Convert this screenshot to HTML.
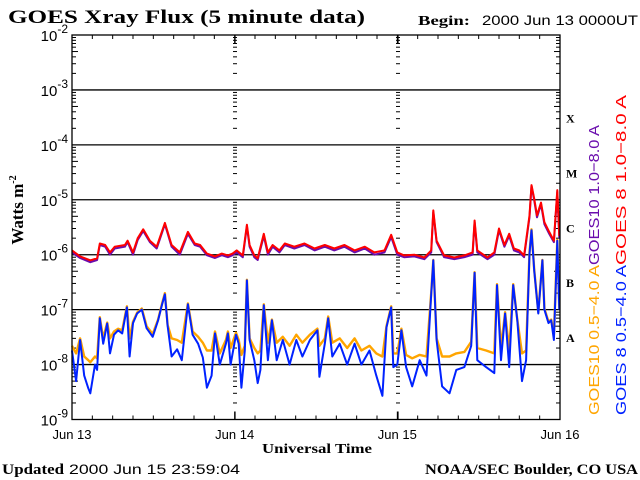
<!DOCTYPE html>
<html><head><meta charset="utf-8"><style>
html,body{margin:0;padding:0;background:#fff;width:640px;height:480px;overflow:hidden}
svg{display:block}
.serif{font-family:"Liberation Serif",serif;font-weight:bold}
.sans{font-family:"Liberation Sans",sans-serif}
</style></head><body>
<svg id="chart" width="640" height="480" xmlns="http://www.w3.org/2000/svg">
<text x="8" y="23" class="serif" font-size="19" textLength="357" lengthAdjust="spacingAndGlyphs">GOES Xray Flux (5 minute data)</text>
<text x="418" y="25" class="serif" font-size="14" textLength="52" lengthAdjust="spacingAndGlyphs">Begin:</text>
<text x="482" y="25" class="sans" font-size="14" textLength="156" lengthAdjust="spacingAndGlyphs">2000 Jun 13 0000UT</text>
<text x="2" y="474" class="serif" font-size="15" textLength="62" lengthAdjust="spacingAndGlyphs">Updated</text>
<text x="69" y="474" class="sans" font-size="14" textLength="171" lengthAdjust="spacingAndGlyphs">2000 Jun 15 23:59:04</text>
<text x="425" y="474" class="serif" font-size="15" textLength="213" lengthAdjust="spacingAndGlyphs">NOAA/SEC Boulder, CO USA</text>
<text x="262" y="453" class="serif" font-size="14" textLength="110" lengthAdjust="spacingAndGlyphs">Universal Time</text>
<text transform="translate(23,210) rotate(-90)" text-anchor="middle" class="serif" font-size="17">Watts m<tspan dy="-7" font-size="10">-2</tspan></text>
<g id="plot"></g>
<text transform="translate(599,265) rotate(-90)" class="sans" font-size="15" fill="#6a0dad" textLength="140" lengthAdjust="spacingAndGlyphs">GOES10 1.0−8.0 A</text>
<text transform="translate(626,265) rotate(-90)" class="sans" font-size="15" fill="#ff0000" textLength="170" lengthAdjust="spacingAndGlyphs">GOES 8 1.0−8.0 A</text>
<text transform="translate(599,415) rotate(-90)" class="sans" font-size="15" fill="#ffa500" textLength="150" lengthAdjust="spacingAndGlyphs">GOES10 0.5−4.0 A</text>
<text transform="translate(626,415) rotate(-90)" class="sans" font-size="15" fill="#0022ff" textLength="150" lengthAdjust="spacingAndGlyphs">GOES 8 0.5−4.0 A</text>
</svg>
<script>
const dayLabels=["Jun 13","Jun 14","Jun 15","Jun 16"];
const decadeExps=[-2,-3,-4,-5,-6,-7,-8,-9];
const classLabels=["X","M","C","B","A"];
const classExps=[-3.5,-4.5,-5.5,-6.5,-7.5];
const redT=[0,1.2,2.7,3.7,4.1,4.9,5.6,6.3,7.8,8.2,9.0,9.7,10.5,11.5,12.5,13.7,14.7,15.9,17.1,18.1,18.9,19.9,21.1,22.1,23.0,23.7,24.3,25.2,25.8,26.2,26.9,27.4,28.3,28.9,29.6,30.6,31.4,32.8,34.3,35.8,37.3,38.7,40.2,41.7,43.2,44.6,46.1,47.1,48.0,49.0,50.5,52.0,53.0,53.3,53.8,54.9,56.4,57.9,59.1,59.4,59.8,61.3,62.3,63.0,63.8,64.5,65.2,66.0,66.7,67.5,67.8,68.2,68.6,69.2,69.7,70.4,71.1,71.6,71.9];
const redV=[1.2e-6,9.3e-7,7.9e-7,8.6e-7,1.6e-6,1.5e-6,1.1e-6,1.4e-6,1.5e-6,1.8e-6,1.1e-6,2.0e-6,2.9e-6,1.8e-6,1.4e-6,3.8e-6,1.5e-6,1.1e-6,2.6e-6,1.6e-6,1.5e-6,1.05e-6,9.3e-7,1.05e-6,9.7e-7,1.05e-6,1.2e-6,9.7e-7,3.5e-6,1.5e-6,9.7e-7,8.6e-7,2.4e-6,1.1e-6,1.5e-6,1.2e-6,1.6e-6,1.4e-6,1.6e-6,1.3e-6,1.5e-6,1.3e-6,1.5e-6,1.2e-6,1.4e-6,1.1e-6,1.2e-6,2.3e-6,1.1e-6,9.7e-7,1.0e-6,8.9e-7,1.2e-6,6.4e-6,1.8e-6,9.7e-7,8.9e-7,9.7e-7,1.1e-6,4.2e-6,1.2e-6,8.9e-7,1.1e-6,3.0e-6,1.5e-6,2.4e-6,1.3e-6,1.2e-6,9.7e-7,5.2e-6,1.85e-5,1.05e-5,5.2e-6,8.9e-6,3.9e-6,2.6e-6,1.8e-6,1.5e-5,2.2e-6];
const purpleT=redT;
const purpleV=[1.1e-6,8.7e-7,7.3e-7,8e-7,1.5e-6,1.4e-6,1.0e-6,1.3e-6,1.4e-6,1.7e-6,1.0e-6,1.85e-6,2.7e-6,1.7e-6,1.3e-6,3.6e-6,1.4e-6,1.0e-6,2.4e-6,1.5e-6,1.4e-6,9.8e-7,8.7e-7,9.8e-7,9e-7,9.8e-7,1.1e-6,9e-7,3.3e-6,1.4e-6,9e-7,8e-7,2.2e-6,1.0e-6,1.4e-6,1.1e-6,1.5e-6,1.3e-6,1.5e-6,1.2e-6,1.4e-6,1.2e-6,1.4e-6,1.1e-6,1.3e-6,1.0e-6,1.1e-6,2.1e-6,1.0e-6,9e-7,9.3e-7,8.3e-7,1.1e-6,6e-6,1.7e-6,9e-7,8.3e-7,9e-7,1.0e-6,3.9e-6,1.1e-6,8.3e-7,1.0e-6,2.8e-6,1.4e-6,2.2e-6,1.2e-6,1.1e-6,9e-7,4.8e-6,1.8e-5,9.8e-6,4.8e-6,8.3e-6,3.6e-6,2.4e-6,1.7e-6,1.4e-5,2.0e-6];
const blueT=[0,0.6,1.2,1.8,2.4,2.7,3.4,3.7,4.1,4.6,5.2,5.6,6.2,6.8,7.4,8.1,8.5,9.0,9.6,10.3,11.0,11.9,12.7,13.3,13.7,14.1,14.7,15.5,16.2,17.1,17.8,18.6,19.3,19.9,20.6,21.1,21.8,22.7,23.0,23.4,24.2,24.6,25.0,25.5,25.8,26.2,26.9,27.4,27.8,28.3,28.9,29.5,30.2,31.1,32.1,33.1,34.0,35.1,36.2,36.5,37.3,37.8,38.4,39.5,40.6,41.7,42.7,43.9,44.9,45.8,46.4,47.1,47.4,48.0,48.6,49.3,50.2,51.3,52.3,53.0,53.3,53.8,54.6,55.7,56.7,57.9,58.9,59.4,59.8,61.1,62.3,62.7,63.3,63.9,64.5,65.1,65.7,66.4,67.0,67.5,67.8,68.2,68.8,69.4,69.7,70.3,70.7,71.1,71.6,71.9];
const blueV=[1.8e-8,5e-9,2.8e-8,6.3e-9,3.7e-9,3e-9,1e-8,8e-9,7e-8,2.4e-8,5.6e-8,1.6e-8,3.5e-8,4.2e-8,3.7e-8,1.1e-7,1.4e-8,5.7e-8,8.5e-8,1e-7,4.6e-8,3.2e-8,6.4e-8,1.25e-7,1.9e-7,5.1e-8,1.4e-8,1.9e-8,1.2e-8,1.25e-7,3.5e-8,2.4e-8,1.35e-8,3.8e-9,6.3e-9,3.7e-8,1e-8,2.4e-8,3.7e-8,1e-8,3.5e-8,2.4e-8,3.8e-9,1.8e-8,3.4e-7,2.8e-8,1.2e-8,4.6e-9,8e-9,1.2e-7,1.2e-8,6.4e-8,1.2e-8,2.8e-8,1e-8,2.8e-8,1.4e-8,2.8e-8,4.2e-8,6e-9,2.4e-8,7e-8,1.4e-8,2.4e-8,1e-8,2.4e-8,1e-8,1.8e-8,6.3e-9,2.7e-9,4.8e-8,1.1e-7,9e-9,1e-8,4.2e-8,9e-9,4e-9,1.2e-8,6.3e-9,1.9e-7,7.9e-7,2.8e-8,4e-9,3e-9,8e-9,9e-9,2.2e-8,4.7e-7,1.2e-8,9e-9,7e-9,2.8e-7,1.2e-8,8.5e-8,9e-9,2.8e-7,6.4e-8,5e-9,1.2e-8,1.05e-6,2.8e-6,5.2e-7,8.5e-8,7.9e-7,1e-7,5.7e-8,6.4e-8,2.8e-8,1.8e-6,1e-7];
const orangeT=blueT;
const orangeV=[2.2e-8,1.6e-8,3e-8,1.4e-8,1.2e-8,1.1e-8,1.4e-8,1.3e-8,7.3e-8,3e-8,5.8e-8,3e-8,4e-8,4.5e-8,4.2e-8,1.15e-7,3e-8,6e-8,8.8e-8,1.05e-7,5e-8,3.6e-8,6.6e-8,1.3e-7,2e-7,5.3e-8,3e-8,2.8e-8,2.5e-8,1.3e-7,4e-8,3.2e-8,2.5e-8,1.8e-8,1.8e-8,4e-8,1.6e-8,2.8e-8,4e-8,2e-8,3.8e-8,2.8e-8,1.5e-8,2.2e-8,3.5e-7,3e-8,2e-8,1.6e-8,1.8e-8,1.25e-7,2.5e-8,6.6e-8,2.5e-8,3.2e-8,2.2e-8,3.5e-8,2.5e-8,3.5e-8,4.5e-8,2.2e-8,3e-8,7.5e-8,2.5e-8,3e-8,2e-8,3e-8,1.8e-8,2.2e-8,1.6e-8,1.4e-8,5e-8,1.15e-7,1.6e-8,1.6e-8,4.5e-8,1.5e-8,1.3e-8,1.5e-8,1.4e-8,2e-7,8e-7,3e-8,1.4e-8,1.4e-8,1.6e-8,1.7e-8,2.6e-8,4.8e-7,2e-8,1.8e-8,1.6e-8,2.9e-7,2e-8,9e-8,1.8e-8,2.9e-7,6.6e-8,1.6e-8,1.8e-8,1.1e-6,2.9e-6,5.4e-7,9e-8,8e-7,1.05e-7,6e-8,6.6e-8,3.5e-8,1.85e-6,1.05e-7];

const X0=72,X1=560,Y0=35,Y1=419.5;
const xs=h=>X0+(X1-X0)*h/72;
const ys=v=>Y0+(Y1-Y0)*(-2-Math.log10(v))/7;
const ye=e=>Y0+(Y1-Y0)*(-2-e)/7;
const NS="http://www.w3.org/2000/svg";
const plot=document.getElementById('plot');
const svg=document.getElementById('chart');
function mk(tag,attrs,parent){const e=document.createElementNS(NS,tag);for(const k in attrs)e.setAttribute(k,attrs[k]);(parent||plot).appendChild(e);return e;}

decadeExps.slice(1,-1).forEach(e=>{
  const l=mk('line',{x1:X0,x2:X1,y1:ye(e),y2:ye(e),stroke:'#000','stroke-width':1.3});
  
  
});
[X0,235,398,X1].forEach((x,i)=>{
  for(let d=-9;d<-2;d++){
    for(let m=2;m<=9;m++){
      const y=ye(d+Math.log10(m));
      const len=(m===5)?6:4;
      if(i===0) mk('line',{x1:x,x2:x+len,y1:y,y2:y,stroke:'#000'});
      else if(i===3) mk('line',{x1:x-len,x2:x,y1:y,y2:y,stroke:'#000'});
      else mk('line',{x1:x-2,x2:x+2,y1:y,y2:y,stroke:'#000'});
    }
  }
  if(i===1||i===2){
    mk('line',{x1:x,x2:x,y1:Y0,y2:Y0+8,stroke:'#000','stroke-width':1.2});
    mk('line',{x1:x,x2:x,y1:Y1-8,y2:Y1,stroke:'#000','stroke-width':1.2});
  }
});
for(let h=3;h<72;h+=3){
  const len=(h%24===0)?8:4;
  mk('line',{x1:xs(h),x2:xs(h),y1:Y0,y2:Y0+len,stroke:'#000'});
  mk('line',{x1:xs(h),x2:xs(h),y1:Y1-len,y2:Y1,stroke:'#000'});
}
function series(T,V,color,w,name,dy){
  const p=mk('polyline',{points:T.map((t,i)=>xs(t).toFixed(1)+','+(ys(V[i])+(dy||0)).toFixed(1)).join(' '),fill:'none',stroke:color,'stroke-width':w,'stroke-linejoin':'round'});
  
  
}
series(orangeT,orangeV,'#ffa500',2.4,'series-goes10-short');
series(blueT,blueV,'#0022ff',2,'series-goes8-short');
series(purpleT,purpleV,'#6a0dad',2,'series-goes10-long');
series(redT,redV,'#ff0000',2,'series-goes8-long');
const fr=mk('rect',{x:X0,y:Y0,width:X1-X0,height:Y1-Y0,fill:'none',stroke:'#000','stroke-width':1.3});


decadeExps.forEach(e=>{
  const t=mk('text',{x:X0-4,y:ye(e)+6,'text-anchor':'end','font-size':15,class:'sans'},svg);
  
  
  t.innerHTML='10<tspan dy="-8" font-size="12">'+e+'</tspan>';
});
classLabels.forEach((c,i)=>{
  const t=mk('text',{x:566,y:ye(classExps[i])+5,'font-size':12,class:'serif'},svg);
  
  
  t.textContent=c;
});
dayLabels.forEach((d,i)=>{
  const t=mk('text',{x:xs(i*24),y:439,'text-anchor':'middle','font-size':13,class:'sans'},svg);
  
  
  t.textContent=d;
});
</script>
</body></html>
